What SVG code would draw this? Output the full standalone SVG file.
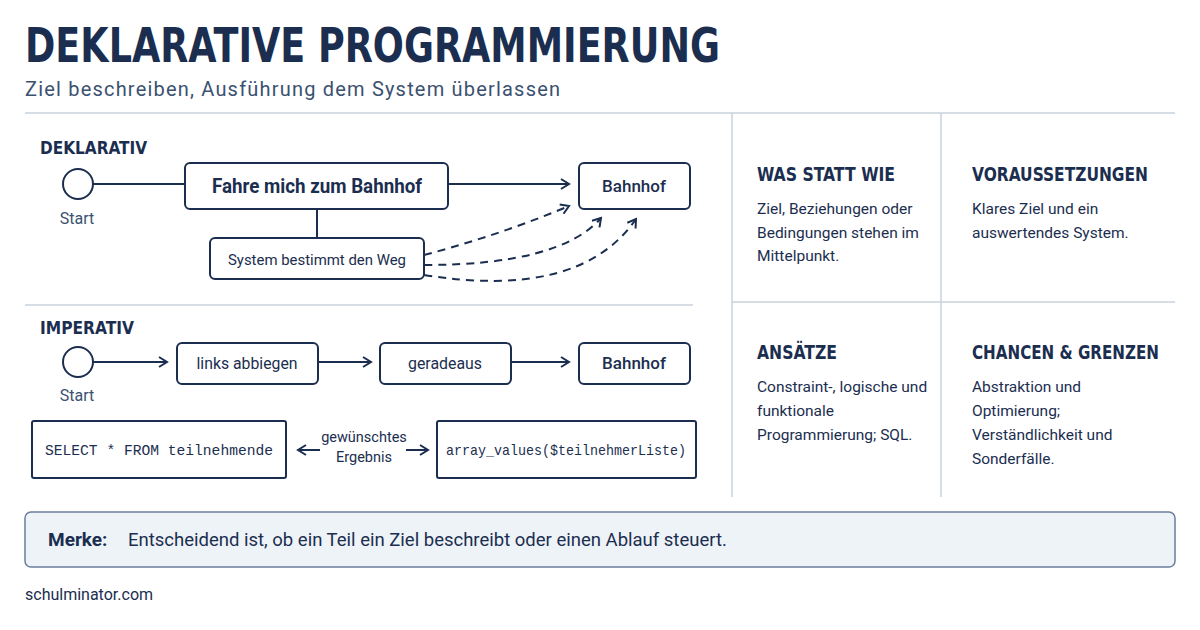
<svg xmlns="http://www.w3.org/2000/svg" width="1200" height="630" viewBox="0 0 1200 630">
<style>
text{font-family:Roboto,"Liberation Sans",sans-serif;fill:#1b2e4f}
.h{font-family:"DejaVu Sans Condensed","DejaVu Sans",sans-serif;font-weight:bold}
.box{fill:#fff;stroke:#1b2e4f;stroke-width:2}
.ln{stroke:#1b2e4f;stroke-width:2;fill:none}
.dash{stroke:#1b2e4f;stroke-width:2;fill:none;stroke-dasharray:8 6}
.div{stroke:#c9d2dc;stroke-width:1.5}
.lbl{font-size:17px;text-anchor:middle}
.mono{font-family:"Liberation Mono","DejaVu Sans Mono",monospace;font-size:15px;text-anchor:middle}
.body{font-size:15.5px}
.ph{font-size:20px}
</style>
<defs>
<marker id="a" viewBox="0 0 12 12" refX="10" refY="6" markerWidth="12" markerHeight="12" markerUnits="userSpaceOnUse" orient="auto"><path d="M2 1 L10 6 L2 11" fill="none" stroke="#1b2e4f" stroke-width="2"/></marker>
</defs>
<rect width="1200" height="630" fill="#fff"/>
<text class="h" x="25" y="62" font-size="48" textLength="695" lengthAdjust="spacingAndGlyphs">DEKLARATIVE PROGRAMMIERUNG</text>
<text x="25" y="96" font-size="20" style="fill:#3b5170" textLength="535" lengthAdjust="spacing">Ziel beschreiben, Ausführung dem System überlassen</text>
<g>
<line class="div" x1="25" y1="113" x2="1175" y2="113"/>
<line class="div" x1="732" y1="113" x2="732" y2="497"/>
<line class="div" x1="941" y1="113" x2="941" y2="497"/>
<line class="div" x1="732" y1="302" x2="1175" y2="302"/>
<line class="div" x1="25" y1="305" x2="693" y2="305"/>
</g>
<text class="h" x="40" y="154" font-size="18" textLength="107" lengthAdjust="spacingAndGlyphs">DEKLARATIV</text>
<text class="h" x="40" y="334" font-size="18" textLength="94" lengthAdjust="spacingAndGlyphs">IMPERATIV</text>
<g id="connectors">
<line class="ln" x1="93" y1="184" x2="185" y2="184"/>
<line class="ln" x1="448" y1="184" x2="569" y2="184" marker-end="url(#a)"/>
<line class="ln" x1="317" y1="209" x2="317" y2="238"/>
<path class="dash" d="M424 255 Q500 235 569 206" marker-end="url(#a)"/>
<path class="dash" d="M424 265 Q560 265 601 218" marker-end="url(#a)"/>
<path class="dash" d="M424 275 Q580 300 636 219" marker-end="url(#a)"/>
<line class="ln" x1="93" y1="362" x2="167" y2="362" marker-end="url(#a)"/>
<line class="ln" x1="318" y1="362" x2="371" y2="362" marker-end="url(#a)"/>
<line class="ln" x1="511" y1="362" x2="569" y2="362" marker-end="url(#a)"/>
<line class="ln" x1="320" y1="450" x2="298" y2="450" marker-end="url(#a)"/>
<line class="ln" x1="406" y1="450" x2="428" y2="450" marker-end="url(#a)"/>
</g>
<g id="start1"><circle class="box" cx="78" cy="184" r="15"/><text x="77" y="224" font-size="16" text-anchor="middle" style="fill:#3b5170">Start</text></g>
<g id="fahre"><rect class="box" x="185" y="163" width="263" height="46" rx="5"/><text x="317" y="193" font-size="20" font-weight="bold" text-anchor="middle" textLength="210" lengthAdjust="spacingAndGlyphs">Fahre mich zum Bahnhof</text></g>
<g id="bahnhof1"><rect class="box" x="579" y="163" width="111" height="46" rx="5"/><text class="lbl" x="634" y="192" font-weight="500">Bahnhof</text></g>
<g id="system"><rect class="box" x="210" y="238" width="214" height="41" rx="5"/><text x="317" y="265" font-size="15.5" text-anchor="middle" textLength="178" lengthAdjust="spacingAndGlyphs">System bestimmt den Weg</text></g>
<g id="start2"><circle class="box" cx="78" cy="362" r="15"/><text x="77" y="401" font-size="16" text-anchor="middle" style="fill:#3b5170">Start</text></g>
<g id="links"><rect class="box" x="177" y="343" width="141" height="41" rx="5"/><text class="lbl" x="247" y="369" textLength="101" lengthAdjust="spacingAndGlyphs">links abbiegen</text></g>
<g id="gerade"><rect class="box" x="380" y="343" width="131" height="41" rx="5"/><text class="lbl" x="445" y="369" textLength="74" lengthAdjust="spacingAndGlyphs">geradeaus</text></g>
<g id="bahnhof2"><rect class="box" x="579" y="343" width="111" height="41" rx="5"/><text class="lbl" x="634" y="369" font-weight="500">Bahnhof</text></g>
<g id="sql"><rect class="box" x="32" y="421" width="254" height="57" rx="2"/><text class="mono" x="159" y="455" textLength="228" lengthAdjust="spacingAndGlyphs">SELECT * FROM teilnehmende</text></g>
<g id="ergebnis"><text x="364" y="442" font-size="14.5" text-anchor="middle">gewünschtes</text><text x="364" y="462" font-size="14.5" text-anchor="middle">Ergebnis</text></g>
<g id="php"><rect class="box" x="437" y="421" width="259" height="57" rx="2"/><text class="mono" x="566" y="455" textLength="240" lengthAdjust="spacingAndGlyphs">array_values($teilnehmerListe)</text></g>
<g id="p1"><text class="h ph" x="757" y="181" textLength="138" lengthAdjust="spacingAndGlyphs">WAS STATT WIE</text>
<text class="body" x="757" y="214">Ziel, Beziehungen oder</text><text class="body" x="757" y="238">Bedingungen stehen im</text><text class="body" x="757" y="261">Mittelpunkt.</text></g>
<g id="p2"><text class="h ph" x="972" y="181" textLength="176" lengthAdjust="spacingAndGlyphs">VORAUSSETZUNGEN</text>
<text class="body" x="972" y="214">Klares Ziel und ein</text><text class="body" x="972" y="238">auswertendes System.</text></g>
<g id="p3"><text class="h ph" x="757" y="359" textLength="80" lengthAdjust="spacingAndGlyphs">ANSÄTZE</text>
<text class="body" x="757" y="392">Constraint-, logische und</text><text class="body" x="757" y="416">funktionale</text><text class="body" x="757" y="440">Programmierung; SQL.</text></g>
<g id="p4"><text class="h ph" x="972" y="359" textLength="187" lengthAdjust="spacingAndGlyphs">CHANCEN &amp; GRENZEN</text>
<text class="body" x="972" y="392">Abstraktion und</text><text class="body" x="972" y="416">Optimierung;</text><text class="body" x="972" y="440">Verständlichkeit und</text><text class="body" x="972" y="464">Sonderfälle.</text></g>
<g id="merke"><rect x="25" y="512" width="1150" height="55" rx="6" fill="#eef3f8" stroke="#6a7f9c" stroke-width="1.5"/>
<text x="48" y="546" font-size="19" font-weight="bold">Merke:</text>
<text x="128" y="546" font-size="18.5">Entscheidend ist, ob ein Teil ein Ziel beschreibt oder einen Ablauf steuert.</text></g>
<text x="25" y="600" font-size="16">schulminator.com</text>
</svg>
